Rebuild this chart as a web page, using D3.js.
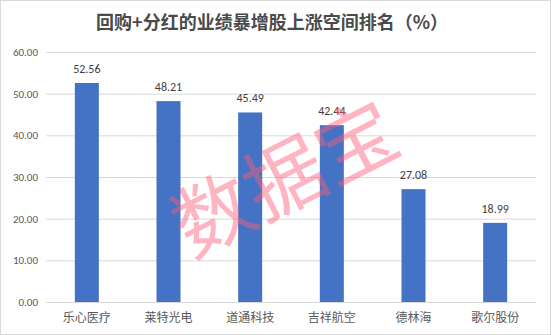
<!DOCTYPE html>
<html>
<head>
<meta charset="utf-8">
<script src="https://cdn.jsdelivr.net/npm/d3@7"></script>
<style>
  body { margin: 0; background: #fff; }
  svg { display: block; font-family: "Noto Sans CJK SC", "Microsoft YaHei", sans-serif; }
</style>
</head>
<body>
<svg id="canvas" width="551" height="335"></svg>
<script>
const title = "回购+分红的业绩暴增股上涨空间排名（%）";
const stocks = ["乐心医疗", "莱特光电", "道通科技", "吉祥航空", "德林海", "歌尔股份"];
const gains = [52.56, 48.21, 45.49, 42.44, 27.08, 18.99];
const yTicks = [0, 10, 20, 30, 40, 50, 60];

let canvas = d3.select("#canvas");

// outer frame
canvas.append("rect")
    .attr("x", 0.5).attr("y", 0.5)
    .attr("width", 550).attr("height", 334)
    .attr("fill", "#fff")
    .attr("stroke", "#d9d9d9");

let left = 46, right = 536;

let xScale = d3.scaleBand()
    .domain(stocks)
    .range([left, right])
    .paddingInner(0.706)
    .paddingOuter(0.353);

let yScale = d3.scaleLinear()
    .domain([0, 60])
    .range([302, 52]);

// gridlines + y labels
let yAxis = d3.axisLeft(yScale)
    .tickValues(yTicks)
    .tickSize(-(right - left))
    .tickPadding(8)
    .tickFormat(d3.format(".2f"));

let yG = canvas.append("g")
    .attr("transform", "translate(" + left + ",0)")
    .call(yAxis);
yG.select(".domain").remove();
yG.selectAll(".tick line").attr("stroke", "#d9d9d9");
yG.selectAll(".tick text")
    .attr("fill", "#595959")
    .style("font-family", "Calibri, 'Liberation Sans', 'DejaVu Sans', sans-serif")
    .style("font-size", "11px");

// bars
canvas.selectAll(".bar")
    .data(stocks)
    .enter()
    .append("rect")
    .attr("class", "bar")
    .attr("x", (d) => xScale(d))
    .attr("width", xScale.bandwidth())
    .attr("y", (d, i) => yScale(gains[i]))
    .attr("height", (d, i) => yScale(0) - yScale(gains[i]))
    .attr("fill", "#4472c4");

// value labels
canvas.selectAll(".val")
    .data(stocks)
    .enter()
    .append("text")
    .attr("class", "val")
    .attr("x", (d) => xScale(d) + xScale.bandwidth() / 2)
    .attr("y", (d, i) => yScale(gains[i]) - 10)
    .attr("text-anchor", "middle")
    .attr("fill", "#404040")
    .style("font-family", "Calibri, 'Liberation Sans', 'DejaVu Sans', sans-serif")
    .style("font-size", "12px")
    .text((d, i) => gains[i].toFixed(2));

// x axis
let xAxis = d3.axisBottom(xScale).tickSize(0).tickPadding(11);
let xG = canvas.append("g")
    .attr("transform", "translate(0,302)")
    .call(xAxis);
xG.select(".domain").attr("stroke", "#d9d9d9");
xG.selectAll(".tick text")
    .attr("fill", "#595959")
    .style("font-family", "'Noto Sans CJK SC', sans-serif")
    .style("font-size", "12px");

// title
canvas.append("text")
    .attr("x", 272)
    .attr("y", 29)
    .attr("text-anchor", "middle")
    .attr("fill", "#4a4a4a")
    .style("font-size", "18px")
    .style("font-weight", "bold")
    .text(title);

// watermark
canvas.append("text")
    .attr("transform", "translate(282,173) rotate(-27)")
    .attr("text-anchor", "middle")
    .attr("dominant-baseline", "central")
    .attr("fill", "#ff5c78")
    .attr("opacity", 0.45)
    .style("font-size", "80px")
    .text("数据宝");
</script>
</body>
</html>
